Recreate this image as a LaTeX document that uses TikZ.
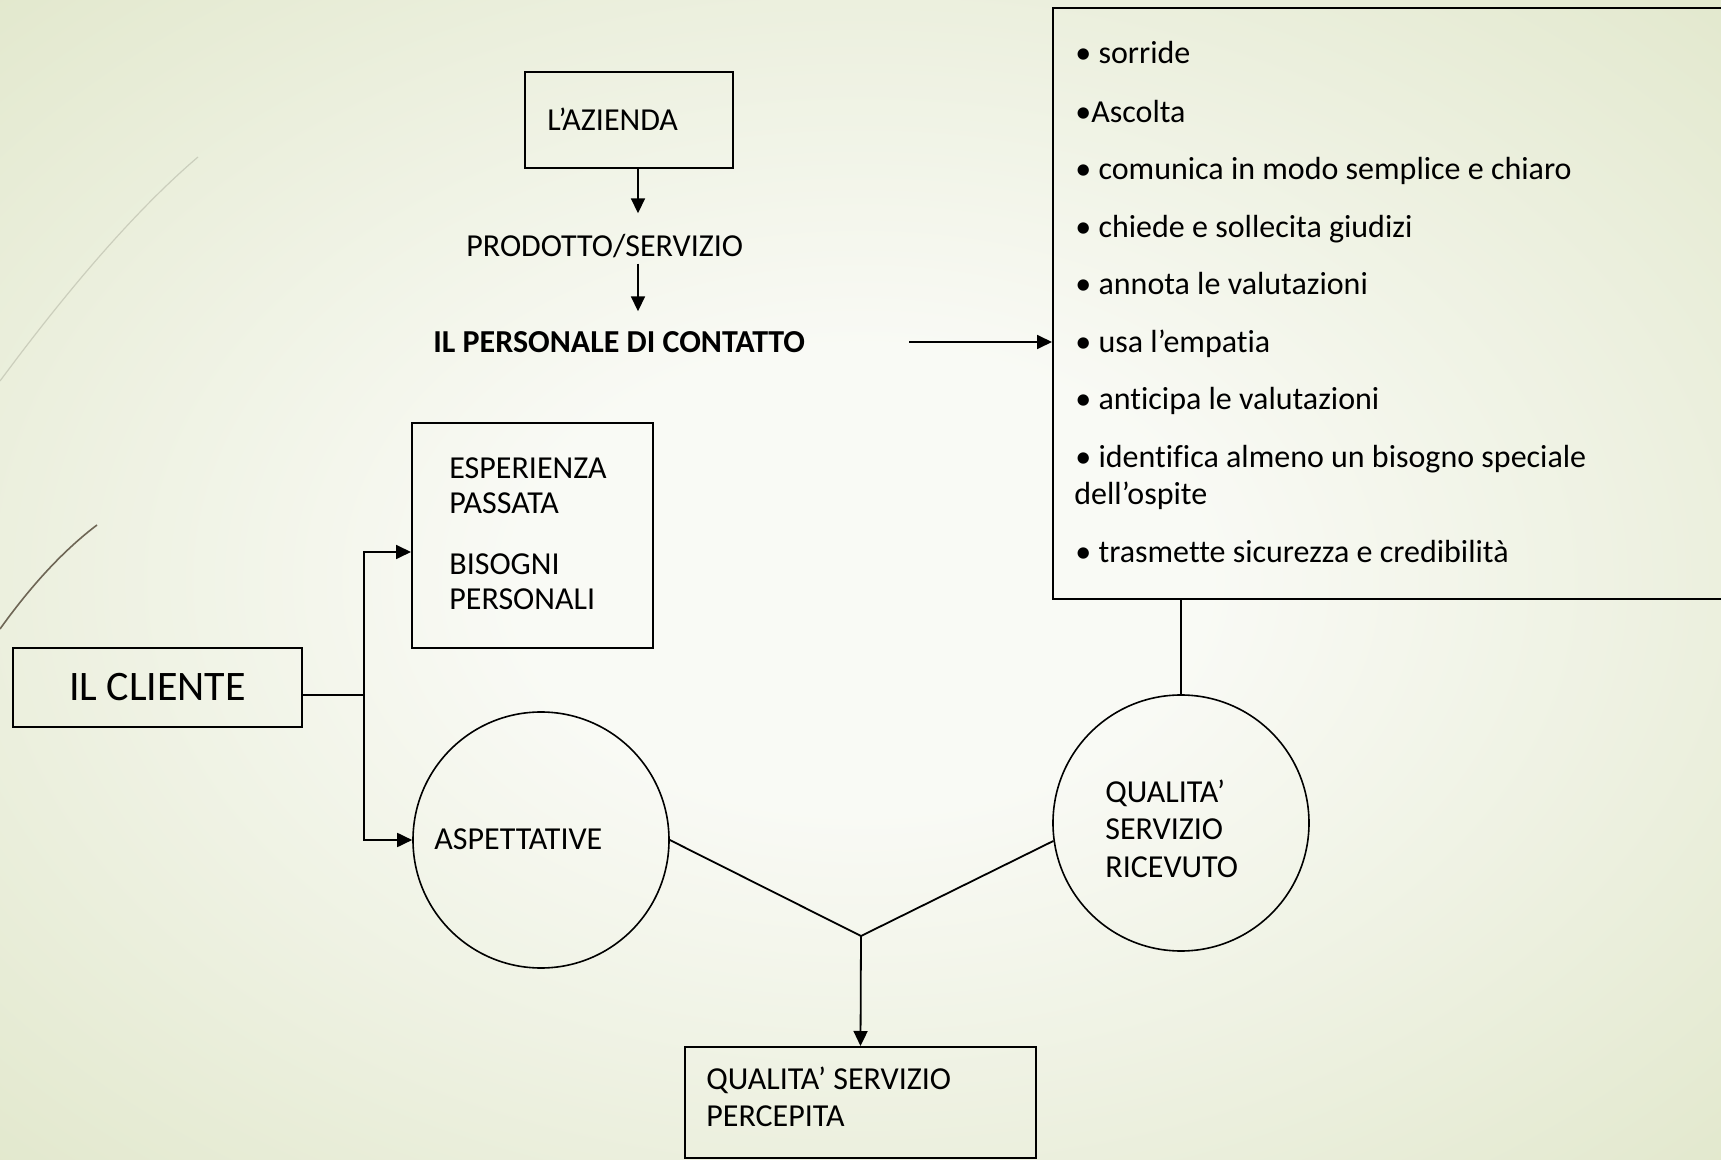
\documentclass[tikz,border=0pt]{standalone}
\usepackage{fontspec}
\setmainfont{Carlito}[Ligatures=NoCommon]
\usetikzlibrary{arrows.meta,calc,shapes.geometric}
\definecolor{bgin}{HTML}{F9FAF5}
\definecolor{bgout}{HTML}{E2E8CD}
\definecolor{decoA}{HTML}{CBCEBC}
\definecolor{decoB}{HTML}{6E6655}
\pgfdeclareradialshading{bgshade}{\pgfpoint{0bp}{0bp}}{color(0bp)=(bgin); color(10bp)=(bgin); color(36bp)=(bgout); color(50bp)=(bgout)}
\newcommand\myfs{\fontsize{16pt}{19pt}\selectfont}
\begin{document}
\begin{tikzpicture}[x=0.5pt,y=-0.5pt,
  box/.style={draw, line width=1pt, inner sep=0pt},
  circ/.style={draw, circle, line width=0.8pt, minimum size=128pt, inner sep=0pt},
  txt/.style={font=\myfs, inner sep=0pt, anchor=west, text height=10.3pt, text depth=0pt},
  conn/.style={line width=0.9pt},
  arr/.style={conn, -{Triangle[length=7.5pt,width=7pt]}}]

\useasboundingbox (0,0) rectangle (1721,1160);
\shade[shading=bgshade] (0,0) rectangle (1721,1160);

% decorative strokes
\draw[decoA, line width=0.6pt] (198,157) .. controls (130,215) and (60,300) .. (0,381);
\draw[decoB, line width=0.8pt] (97,525) .. controls (60,553) and (28,590) .. (0,629);

% top chain
\node[box, minimum width=104pt, minimum height=48pt] (azbox) at (629,120) {};
\node[txt] (aztxt) at (547,120) {L’AZIENDA};
\node[txt] (prod) at (466,246) {PRODOTTO/SERVIZIO};
\node[txt, font=\myfs\bfseries] (pers) at (433,342) {IL PERSONALE DI CONTATTO};
\coordinate (ax) at (638,0);
\draw[arr] (azbox.south -| ax) -- ($(prod.north -| ax)+(0,-22)$);
\draw[arr] ($(prod.south -| ax)+(0,7)$) -- ($(pers.north -| ax)+(0,-20)$);

% big list box
\node[box, minimum width=338pt, minimum height=295.5pt] (big) at (1391,303.5) {};
\draw[arr] (909,342) -- (big.west |- pers.east);
\node[txt] (b1) at (1075,53) {• sorride};
\node[txt] (b2) at (1075,112) {•Ascolta};
\node[txt] (b3) at (1075,169) {• comunica in modo semplice e chiaro};
\node[txt] (b4) at (1075,227) {• chiede e sollecita giudizi};
\node[txt] (b5) at (1075,284) {• annota le valutazioni};
\node[txt] (b6) at (1075,342) {• usa l’empatia};
\node[txt] (b7) at (1075,399) {• anticipa le valutazioni};
\node[txt] (b8) at (1075,457) {• identifica almeno un bisogno speciale};
\node[txt] (b9) at (1074,494) {dell’ospite};
\node[txt] (b10) at (1075,552) {• trasmette sicurezza e credibilità};

% esperienza box
\node[box, minimum width=120.5pt, minimum height=112.5pt] (esp) at (532.5,535.5) {};
\node[txt] (e1) at (449,468) {ESPERIENZA};
\node[txt] (e2) at (449,503) {PASSATA};
\node[txt] (e3) at (449,564) {BISOGNI};
\node[txt] (e4) at (449,599) {PERSONALI};

% cliente
\node[box, minimum width=144.5pt, minimum height=39.5pt, font=\fontsize{21pt}{25pt}\selectfont, text height=13.5pt, text depth=0pt] (cli) at (157.5,687.5) {IL CLIENTE};

% circles
\node[circ] (asp) at (541,840) {};
\node[txt] (asptxt) at (434,839) {ASPETTATIVE};
\node[circ] (ric) at (1181,823) {};
\node[txt] (q1) at (1105,792) {QUALITA’};
\node[txt] (q2) at (1105,829) {SERVIZIO};
\node[txt] (q3) at (1105,867) {RICEVUTO};

% cliente connectors
\coordinate (fork) at (364,695);
\draw[conn] ($(cli.east)+(0,7.5)$) -- (fork);
\draw[arr] (fork) |- ($(esp.west)+(0,16.5)$);
\draw[arr] (fork) |- (asp.west);

% list to received quality
\draw[conn] (big.south -| ric) -- (ric.north);

% Y junction
\coordinate (yj) at (861,936);
\draw[conn] (asp.east) -- (yj) -- (ric.188);
\node[box, minimum width=175.5pt, minimum height=55.5pt] (perc) at (860.5,1102.5) {};
\draw[arr] (yj) -- (perc.north);
\node[txt] (p1) at (706,1079) {QUALITA’ SERVIZIO};
\node[txt] (p2) at (706,1116) {PERCEPITA};
\end{tikzpicture}
\end{document}
